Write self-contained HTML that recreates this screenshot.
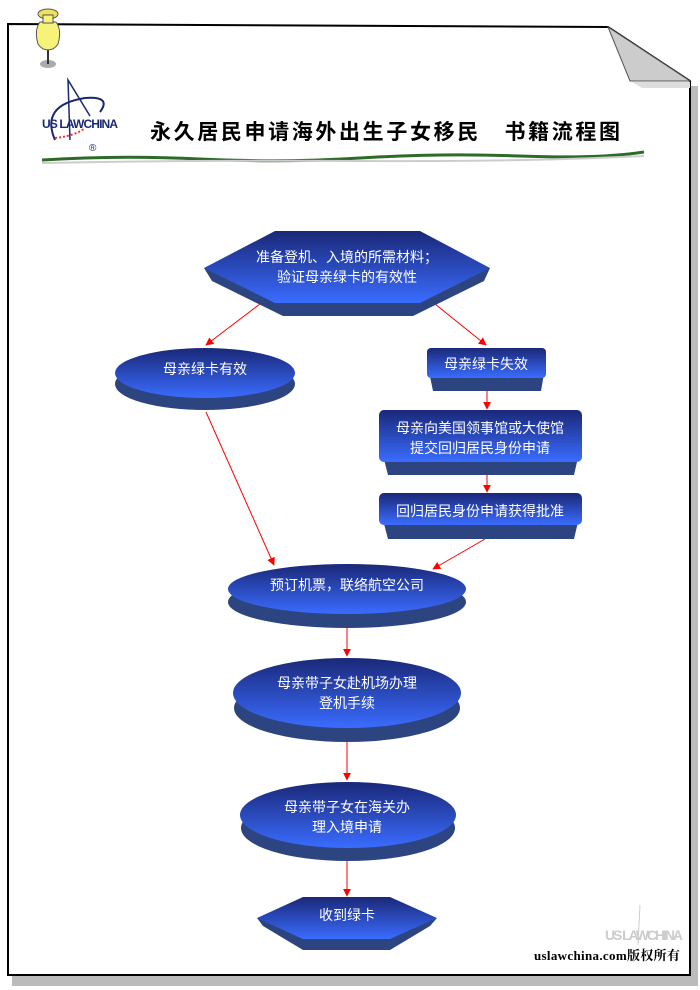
<!DOCTYPE html>
<html><head><meta charset="utf-8"><style>
html,body{margin:0;padding:0;background:#fff;}
svg{display:block;}
text{font-family:"Liberation Sans","Noto Sans CJK SC",sans-serif;}
</style></head><body>
<svg width="700" height="990" viewBox="0 0 700 990" xmlns="http://www.w3.org/2000/svg">
<defs>
<linearGradient id="g" x1="0" y1="0" x2="0" y2="1">
<stop offset="0" stop-color="#1a2878"/><stop offset="1" stop-color="#3a6cff"/></linearGradient>
<marker id="a" viewBox="0 0 10 10" refX="9" refY="5" markerWidth="8" markerHeight="8" orient="auto-start-reverse">
<path d="M0,0 L10,5 L0,10 z" fill="#ff0000"/></marker>
</defs>
<!-- page shadow -->
<rect x="12" y="975" width="686" height="11" fill="#bbb"/>
<rect x="690" y="86" width="8" height="900" fill="#bbb"/>
<path d="M8,24 L608,27 L690,81 L690,975 L8,975 Z" fill="#fff" stroke="#000" stroke-width="2"/>
<path d="M608,27 L630,81 L690,81 Z" fill="#ccc" stroke="#555" stroke-width="1"/>
<path d="M632,82 L690,82 L690,88 L642,88Z" fill="#ddd"/>
<!-- pin -->
<ellipse cx="48" cy="64" rx="8" ry="4" fill="#aaa"/>
<line x1="48" y1="50" x2="48" y2="64" stroke="#333" stroke-width="2"/>
<path d="M40,22 Q34,30 38,44 Q42,50 48,50 Q54,50 58,44 Q62,30 56,22 Z" fill="#f7f37a" stroke="#555"/>
<ellipse cx="48" cy="14" rx="10" ry="5" fill="#f0e060" stroke="#555"/>
<rect x="43" y="15" width="10" height="8" fill="#f7f37a" stroke="#555"/>
<!-- logo -->
<path d="M55,140 Q40,105 85,98 Q112,96 100,112" fill="none" stroke="#1a2870" stroke-width="2"/>
<path d="M90,116 L68,80 L70,140" fill="none" stroke="#1a2870" stroke-width="1.5"/>
<path d="M55,138 Q75,136 85,128" stroke="#e33" stroke-width="2" stroke-dasharray="2 2" fill="none"/>
<text x="42" y="128" font-size="12" font-weight="bold" fill="#1a2870" textLength="76">US LAWCHINA</text>
<text x="89" y="151" font-size="10" fill="#1a2870">®</text>
<!-- title -->
<text x="150" y="139" font-size="21" font-weight="bold" fill="#000" textLength="470">永久居民申请海外出生子女移民　书籍流程图</text>
<path d="M42,160 Q120,155 200,159 T360,158 T520,156 T644,152" stroke="#2e6b2a" stroke-width="3" fill="none"/>
<path d="M42,163 Q200,160 360,161 T644,156" stroke="#ccc" stroke-width="2" fill="none"/>
<!-- arrows -->
<g stroke="#ff0000" stroke-width="1" marker-end="url(#a)">
<line x1="260" y1="304" x2="206" y2="345"/>
<line x1="435" y1="304" x2="486" y2="345"/>
<line x1="487" y1="391" x2="487" y2="409"/>
<line x1="487" y1="475" x2="487" y2="492"/>
<line x1="206" y1="412" x2="274" y2="565"/>
<line x1="485" y1="539" x2="433" y2="569"/>
<line x1="347" y1="628" x2="347" y2="656"/>
<line x1="347" y1="742" x2="347" y2="780"/>
<line x1="347" y1="861" x2="347" y2="896"/>
</g>
<!-- hex top -->
<path d="M204,268 L212,281 L283,316 L413,316 L484,281 L490,268 Z" fill="#2c4580"/>
<path d="M275,231 L420,231 L490,268 L420,303 L275,303 L204,268 Z" fill="url(#g)"/>
<!-- ellipse left -->
<ellipse cx="205" cy="384" rx="90" ry="26" fill="#2c4580"/>
<ellipse cx="205" cy="373" rx="90" ry="25" fill="url(#g)"/>
<!-- rects -->
<path d="M427,362 L433,391 L541,391 L546,362Z" fill="#2c4580"/>
<rect x="427" y="348" width="119" height="30" rx="4" fill="url(#g)"/>
<path d="M379,440 L388,475 L574,475 L582,440Z" fill="#2c4580"/>
<rect x="379" y="410" width="203" height="52" rx="5" fill="url(#g)"/>
<path d="M379,505 L388,539 L574,539 L582,505Z" fill="#2c4580"/>
<rect x="379" y="493" width="203" height="32" rx="5" fill="url(#g)"/>
<!-- ellipses -->
<ellipse cx="347" cy="602" rx="119" ry="26" fill="#2c4580"/>
<ellipse cx="347" cy="589" rx="119" ry="25" fill="url(#g)"/>
<ellipse cx="347" cy="708" rx="113" ry="34" fill="#2c4580"/>
<ellipse cx="347" cy="693" rx="114" ry="35" fill="url(#g)"/>
<ellipse cx="348" cy="828" rx="107" ry="33" fill="#2c4580"/>
<ellipse cx="348" cy="815" rx="108" ry="33" fill="url(#g)"/>
<!-- hex bottom -->
<path d="M257,918 L263,926 L303,950 L390,950 L430,926 L437,918 Z" fill="#2c4580"/>
<path d="M303,897 L390,897 L437,918 L390,939 L303,939 L257,918 Z" fill="url(#g)"/>
<!-- labels -->
<g fill="#fff" font-size="14" text-anchor="middle">
<text x="347" y="262">准备登机、入境的所需材料；</text>
<text x="347" y="282">验证母亲绿卡的有效性</text>
<text x="205" y="374">母亲绿卡有效</text>
<text x="486" y="369">母亲绿卡失效</text>
<text x="480" y="433">母亲向美国领事馆或大使馆</text>
<text x="480" y="453">提交回归居民身份申请</text>
<text x="480" y="516">回归居民身份申请获得批准</text>
<text x="347" y="590">预订机票，联络航空公司</text>
<text x="347" y="688">母亲带子女赴机场办理</text>
<text x="347" y="708">登机手续</text>
<text x="347" y="812">母亲带子女在海关办</text>
<text x="347" y="832">理入境申请</text>
<text x="347" y="920">收到绿卡</text>
</g>
<!-- watermark -->
<text x="605" y="940" font-size="14" fill="#ccc" font-weight="bold" textLength="78">US LAWCHINA</text>
<path d="M640,905 L638,945" stroke="#ccc"/>
<text x="534" y="960" font-size="13" font-weight="bold" fill="#000" style="font-family:'Liberation Serif','Noto Serif CJK SC',serif" textLength="146">uslawchina.com版权所有</text>
</svg>
</body></html>
